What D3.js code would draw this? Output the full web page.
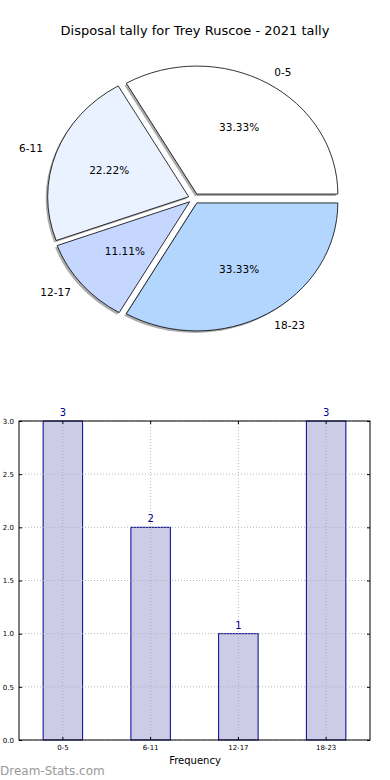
<!DOCTYPE html>
<html><head><meta charset="utf-8">
<script src="https://cdn.jsdelivr.net/npm/d3@7/dist/d3.min.js"></script>
<style>
body{margin:0;background:#fff;}
svg{display:block;font-family:"DejaVu Sans",sans-serif;}
</style></head>
<body>
<script>
const categories = ["0-5","6-11","12-17","18-23"];
const counts = [3,2,1,3];
const pieColors = ["#ffffff","#ebf2ff","#c5d7ff","#b3d6ff"];
const yTicks = [0,0.5,1.0,1.5,2.0,2.5,3.0];
const title = "Disposal tally for Trey Ruscoe - 2021 tally";
const xLabel = "Frequency";
const watermark = "Dream-Stats.com";

const W=390,H=780;
const svg=d3.select("body").append("svg").attr("width",W).attr("height",H);
svg.append("rect").attr("width",W).attr("height",H).attr("fill","#fff");

svg.append("text").attr("x",195).attr("y",35).attr("text-anchor","middle")
  .attr("font-size",13).attr("fill","#000").text(title);

// ---- Pie ----
const cx=194, cy=198.5, rx=141, ry=128, explode=0.04;
const total=d3.sum(counts);
const pie=d3.pie().sort(null).value(d=>d).startAngle(Math.PI/2).endAngle(Math.PI/2-2*Math.PI);
const arcs=pie(counts);
const arc=d3.arc().innerRadius(0).outerRadius(1);
const pieG=svg.append("g");
function off(a,f){return [Math.sin(a)*f*rx, -Math.cos(a)*f*ry];}
// shadows
arcs.forEach((d,i)=>{
  const m=(d.startAngle+d.endAngle)/2;
  const [dx,dy]=off(m,explode);
  pieG.append("path").attr("d",arc(d))
    .attr("transform",`translate(${cx+dx-2},${cy+dy+2}) scale(${rx},${ry})`)
    .attr("fill","#777").attr("fill-opacity",0.6);
});
arcs.forEach((d,i)=>{
  const m=(d.startAngle+d.endAngle)/2;
  const [dx,dy]=off(m,explode);
  pieG.append("path").attr("d",arc(d))
    .attr("transform",`translate(${cx+dx},${cy+dy}) scale(${rx},${ry})`)
    .attr("fill",pieColors[i]).attr("stroke","#000").attr("stroke-width",0.8)
    .attr("vector-effect","non-scaling-stroke");
});
arcs.forEach((d,i)=>{
  const m=(d.startAngle+d.endAngle)/2;
  const [dx,dy]=off(m,explode);
  const s=Math.sin(m), c=Math.cos(m);
  const lx=cx+dx+1.1*rx*s, ly=cy+dy-1.1*ry*c;
  svg.append("text").attr("x",lx).attr("y",ly).attr("dy","0.35em")
    .attr("text-anchor", s>=0?"start":"end").attr("font-size",10.5).attr("fill","#000")
    .text(categories[i]);
  const px=cx+dx+0.6*rx*s, py=cy+dy-0.6*ry*c;
  svg.append("text").attr("x",px).attr("y",py).attr("dy","0.35em")
    .attr("text-anchor","middle").attr("font-size",10.5).attr("fill","#000")
    .text((counts[i]/total*100).toFixed(2)+"%");
});

// ---- Bar ----
const L=19,R=370,T=421,B=740;
const x=d3.scaleBand().domain(categories).range([L,R]).paddingInner(0.55).paddingOuter(0.275);
const y=d3.scaleLinear().domain([0,3]).range([B,T]);
const bg=svg.append("g");
bg.selectAll("rect.bar").data(categories).enter().append("rect")
  .attr("x",d=>x(d)).attr("width",x.bandwidth())
  .attr("y",(d,i)=>y(counts[i])).attr("height",(d,i)=>B-y(counts[i]))
  .attr("fill","#ccccE6").attr("stroke","#00008b").attr("stroke-width",1);
// grid
const grid=svg.append("g").attr("stroke","#aaa").attr("stroke-width",1).attr("stroke-dasharray","1,2").attr("opacity",0.8);
yTicks.forEach(t=>grid.append("line").attr("x1",L).attr("x2",R).attr("y1",y(t)).attr("y2",y(t)));
categories.forEach(c=>grid.append("line").attr("x1",x(c)+x.bandwidth()/2).attr("x2",x(c)+x.bandwidth()/2).attr("y1",T).attr("y2",B));
// frame
svg.append("rect").attr("x",L).attr("y",T).attr("width",R-L).attr("height",B-T)
  .attr("fill","none").attr("stroke","#000").attr("stroke-width",1);
// y axis
const yAxis=d3.axisLeft(y).tickValues(yTicks).tickFormat(d3.format(".1f")).tickSize(-3).tickPadding(5);
const ya=svg.append("g").attr("transform",`translate(${L},0)`).call(yAxis);
ya.select(".domain").remove();
ya.selectAll("text").attr("font-size",7).attr("font-family","DejaVu Sans").attr("fill","#000");
const yAxisR=d3.axisRight(y).tickValues(yTicks).tickFormat("").tickSize(-3);
const yr=svg.append("g").attr("transform",`translate(${R},0)`).call(yAxisR);
yr.select(".domain").remove();
// x axis
const xAxis=d3.axisBottom(x).tickSize(-3).tickPadding(5);
const xa=svg.append("g").attr("transform",`translate(0,${B})`).call(xAxis);
xa.select(".domain").remove();
xa.selectAll("text").attr("font-size",7).attr("font-family","DejaVu Sans").attr("fill","#000");
const xAxisT=d3.axisTop(x).tickSize(-3).tickFormat("");
const xt=svg.append("g").attr("transform",`translate(0,${T})`).call(xAxisT);
xt.select(".domain").remove();
// value labels
svg.selectAll("text.val").data(categories).enter().append("text")
  .attr("x",d=>x(d)+x.bandwidth()/2).attr("y",(d,i)=>y(counts[i])-5)
  .attr("text-anchor","middle").attr("font-size",10).attr("fill","#00008b")
  .text((d,i)=>counts[i]);
svg.append("text").attr("x",195).attr("y",764).attr("text-anchor","middle")
  .attr("font-size",10).attr("fill","#000").text(xLabel);
svg.append("text").attr("x",0).attr("y",775).attr("font-size",12)
  .attr("fill","#999").text(watermark);
</script>
</body></html>
